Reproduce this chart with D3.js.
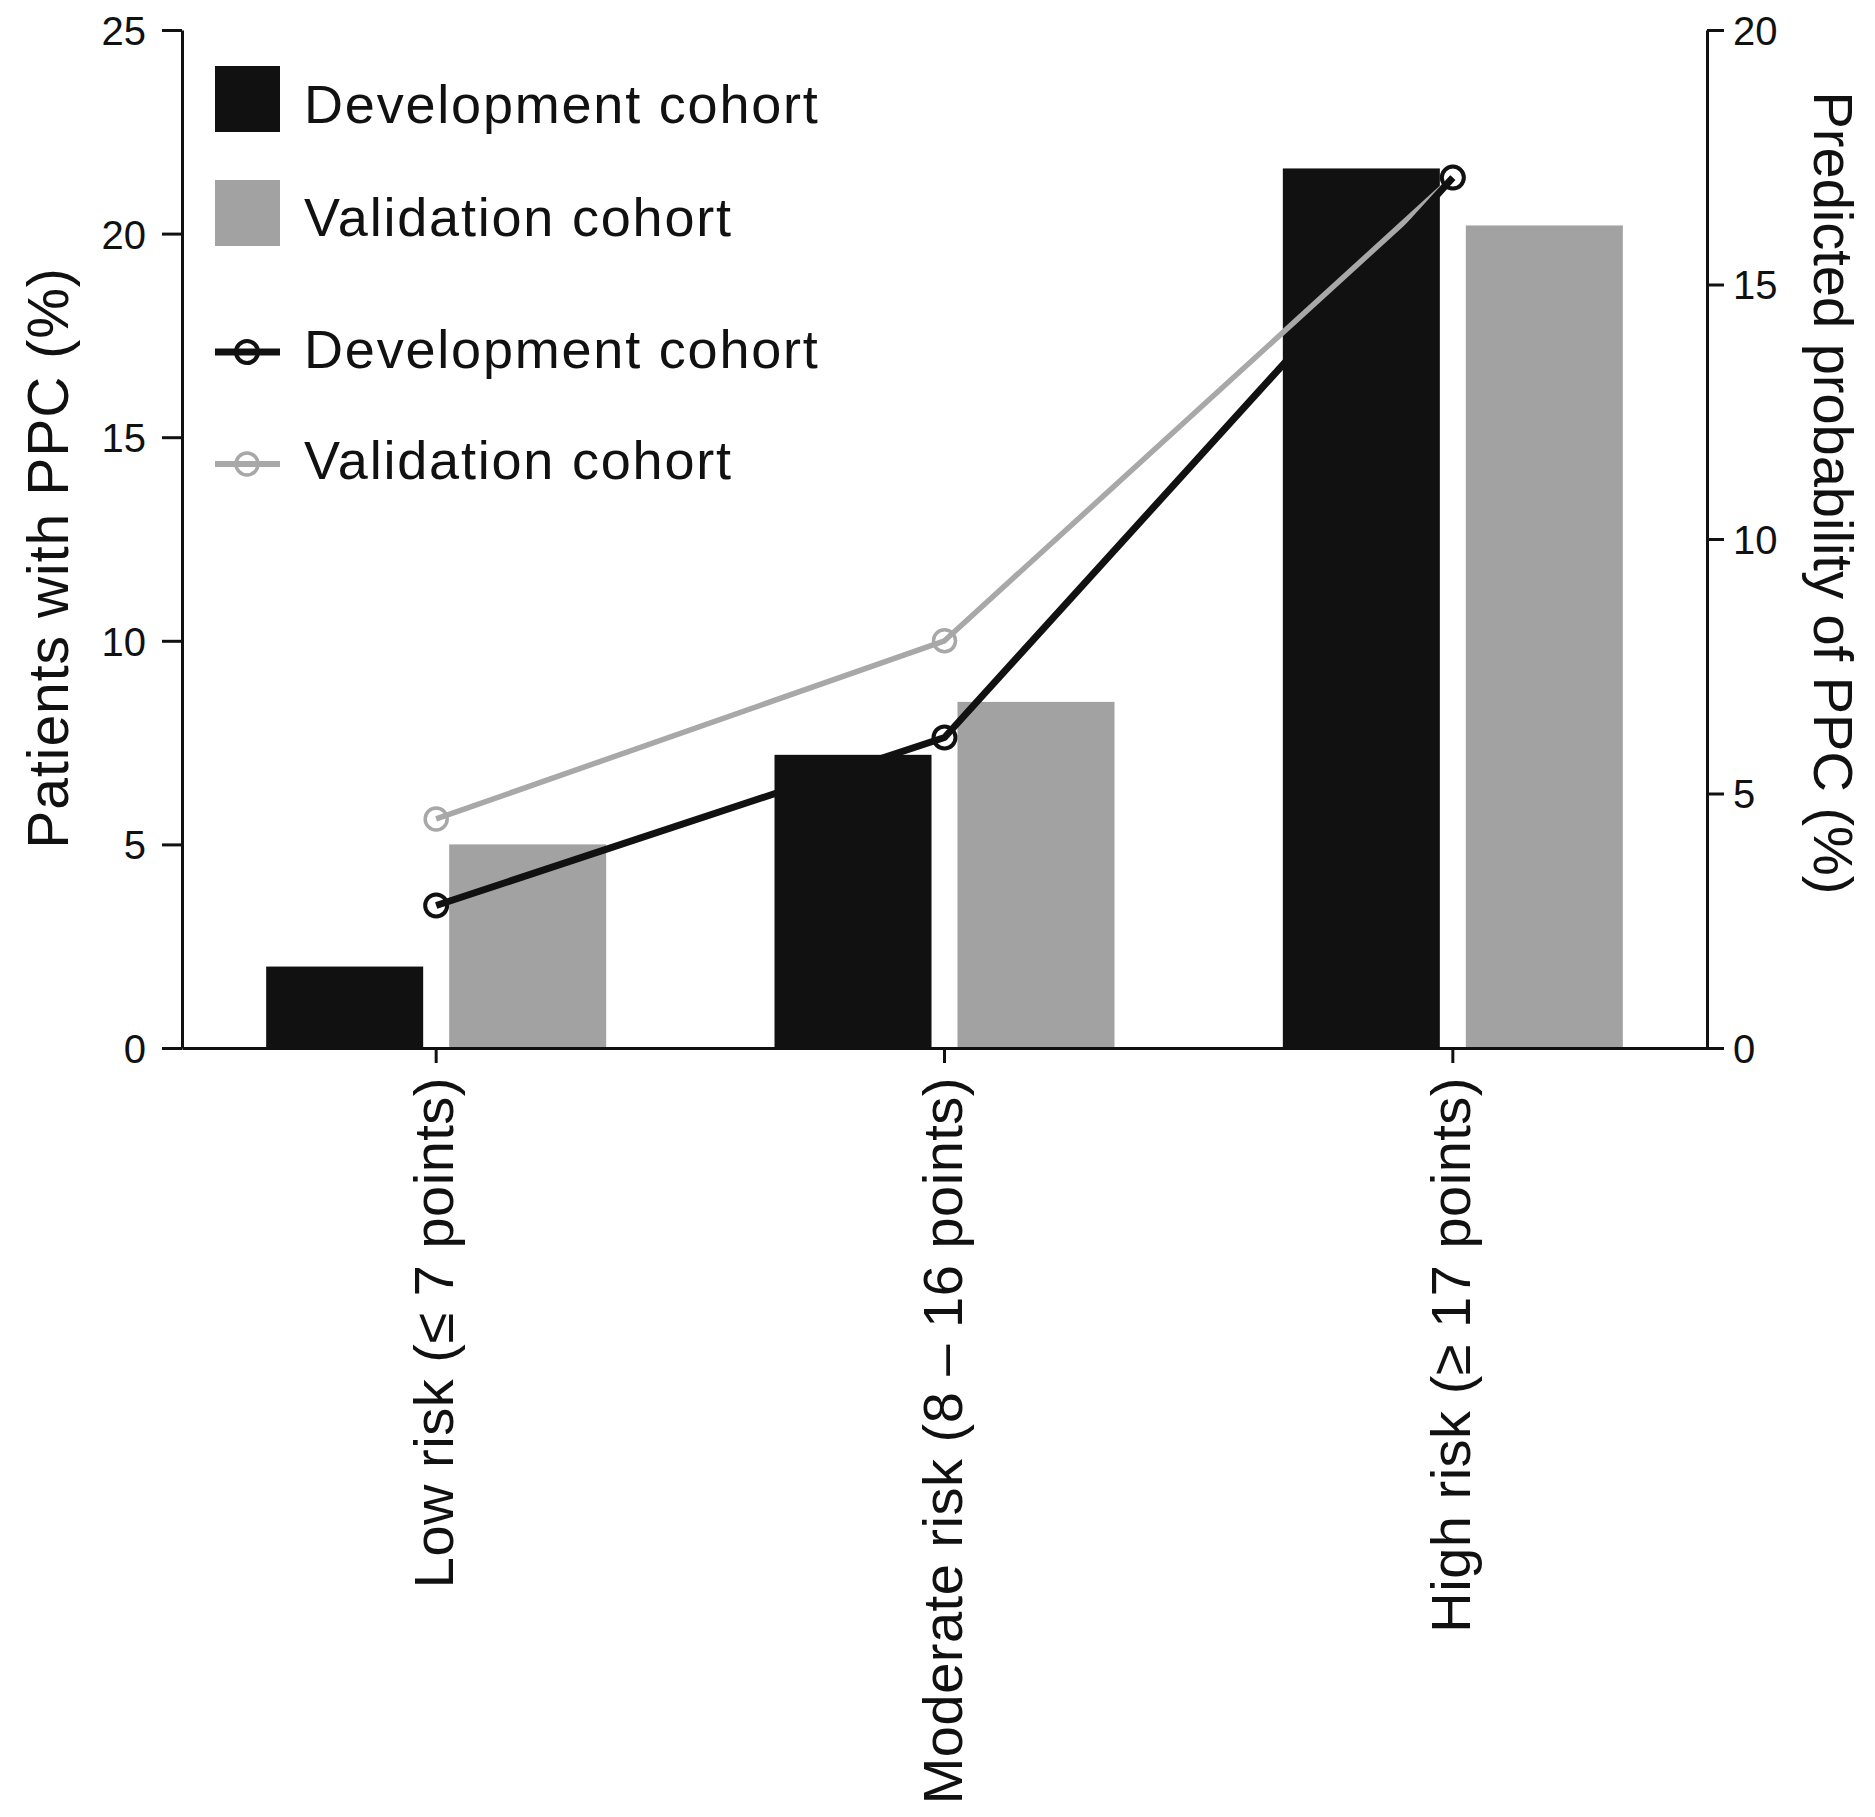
<!DOCTYPE html>
<html>
<head>
<meta charset="utf-8">
<script src="https://cdn.jsdelivr.net/npm/d3@7"></script>
<style>
  html, body { margin: 0; padding: 0; background: #fff; }
  svg { display: block; }
  text { font-family: "Liberation Sans", Arial, Helvetica, sans-serif; fill: #111; }
</style>
</head>
<body>
<script>
// ---- data ----
const categories = ["Low risk (\u2264 7 points)", "Moderate risk (8 \u2013 16 points)", "High risk (\u2265 17 points)"];
const barSeries = ["Development cohort", "Validation cohort"];
const barDevelopment = [2.0, 7.2, 21.6];
const barValidation = [5.0, 8.5, 20.2];
const lineDevelopment = [2.8, 6.1, 17.1];
const lineValidation = [4.5, 8.0, 17.1];
const leftTicks = [0, 5, 10, 15, 20, 25];
const rightTicks = [0, 5, 10, 15, 20];
const leftTitle = "Patients with PPC (%)";
const rightTitle = "Predicted probability of PPC (%)";

// ---- layout ----
const W = 1875, H = 1817;
const x0 = 182, x1 = 1707, yTop = 30, yBot = 1048;
const black = "#111111", gray = "#a2a2a2", lineGray = "#a8a8a8";

const svg = d3.select("body").append("svg").attr("width", W).attr("height", H);

const x = d3.scaleBand().domain(categories).range([x0, x1]).padding(0);
const xs = d3.scaleBand().domain(barSeries).range([-170, 170]).paddingInner(0.142);
const yL = d3.scaleLinear().domain([0, 25]).range([yBot, yTop]);
const yR = d3.scaleLinear().domain([0, 20]).range([yBot, yTop]);

const barData = [];
categories.forEach((c, i) => {
  barData.push({cat: c, s: barSeries[0], v: barDevelopment[i], col: black});
  barData.push({cat: c, s: barSeries[1], v: barValidation[i], col: gray});
});

// bars
svg.append("g").selectAll("rect").data(barData).join("rect")
  .attr("x", d => x(d.cat) + x.bandwidth() / 2 + xs(d.s))
  .attr("width", xs.bandwidth())
  .attr("y", d => yL(d.v))
  .attr("height", d => yL(0) - yL(d.v))
  .attr("fill", d => d.col);

// lines (validation drawn first, development on top)
const cx = c => x(c) + x.bandwidth() / 2;
const lineGen = d3.line().x(d => cx(d.c)).y(d => yR(d.v));
const lines = [
  {vals: lineValidation, col: lineGray, w: 5.5, cw: 3.5},
  {vals: lineDevelopment, col: black, w: 7, cw: 4}
];
lines.forEach(L => {
  const pts = categories.map((c, i) => ({c, v: L.vals[i]}));
  svg.append("path").datum(pts).attr("d", lineGen)
    .attr("fill", "none").attr("stroke", L.col).attr("stroke-width", L.w)
    .attr("stroke-linejoin", "round");
  svg.append("g").selectAll("circle").data(pts).join("circle")
    .attr("cx", d => cx(d.c)).attr("cy", d => yR(d.v)).attr("r", 11)
    .attr("fill", "none").attr("stroke", L.col).attr("stroke-width", L.cw);
});

// axes
const styleAxis = g => {
  g.selectAll("path, line").attr("stroke", black).attr("stroke-width", 3);
  g.selectAll("text").attr("fill", black).style("font-family", '"Liberation Sans", Arial, sans-serif');
};
svg.append("g").attr("transform", `translate(${x0},0)`)
  .call(d3.axisLeft(yL).tickValues(leftTicks).tickSize(20).tickSizeOuter(0).tickPadding(16))
  .call(styleAxis)
  .call(g => g.selectAll("text").attr("font-size", 40).attr("dy", "0.36em"));

svg.append("g").attr("transform", `translate(${x1},0)`)
  .call(d3.axisRight(yR).tickValues(rightTicks).tickSize(17).tickSizeOuter(0).tickPadding(9))
  .call(styleAxis)
  .call(g => g.selectAll("text").attr("font-size", 40).attr("dy", "0.36em"));

svg.append("g").attr("transform", `translate(0,${yBot})`)
  .call(d3.axisBottom(x).tickSize(15).tickSizeOuter(0).tickFormat(""))
  .call(styleAxis);

// category labels
svg.append("g").selectAll("text").data(categories).join("text")
  .attr("transform", d => `translate(${cx(d) + 17},${yBot + 29}) rotate(-90)`)
  .attr("text-anchor", "end")
  .attr("font-size", 56)
  .attr("letter-spacing", 0.5)
  .text(d => d);

// axis titles
svg.append("text")
  .attr("transform", `translate(68,558) rotate(-90)`)
  .attr("text-anchor", "middle").attr("font-size", 57).attr("letter-spacing", 1)
  .text(leftTitle);
svg.append("text")
  .attr("transform", `translate(1814,493) rotate(90)`)
  .attr("text-anchor", "middle").attr("font-size", 56)
  .text(rightTitle);

// legend
const leg = svg.append("g");
const legItems = [
  {type: "rect", col: black, label: barSeries[0], cy: 99, base: 123},
  {type: "rect", col: gray, label: barSeries[1], cy: 213, base: 236},
  {type: "line", col: black, w: 7, cw: 4, label: barSeries[0], cy: 352, base: 368},
  {type: "line", col: lineGray, w: 6, cw: 3.5, label: barSeries[1], cy: 464, base: 479}
];
legItems.forEach(it => {
  if (it.type === "rect") {
    leg.append("rect").attr("x", 215).attr("y", it.cy - 33).attr("width", 65).attr("height", 66).attr("fill", it.col);
  } else {
    leg.append("line").attr("x1", 215).attr("x2", 280).attr("y1", it.cy).attr("y2", it.cy)
      .attr("stroke", it.col).attr("stroke-width", it.w);
    leg.append("circle").attr("cx", 247).attr("cy", it.cy).attr("r", 11)
      .attr("fill", "none").attr("stroke", it.col).attr("stroke-width", it.cw);
  }
  leg.append("text").attr("x", 304).attr("y", it.base).attr("font-size", 54)
    .attr("letter-spacing", 1.8).text(it.label);
});
</script>
</body>
</html>
